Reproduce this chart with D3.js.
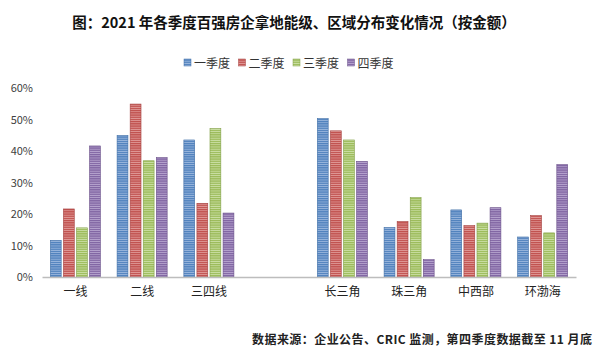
<!DOCTYPE html>
<html><head><meta charset="utf-8">
<script src="https://cdn.jsdelivr.net/npm/d3@7"></script>
<style>body{margin:0;background:#fff}svg{display:block}text{font-family:"Noto Sans CJK SC","Noto Sans",sans-serif}</style>
</head><body><svg id="c" width="600" height="357"></svg>
<script>
const categories = ["一线","二线","三四线","","长三角","珠三角","中西部","环渤海"];
const seriesNames = ["一季度","二季度","三季度","四季度"];
const q1 = [11.6, 44.9, 43.5, null, 50.3, 15.7, 21.3, 12.7];
const q2 = [21.6, 54.9, 23.4, null, 46.4, 17.6, 16.3, 19.5];
const q3 = [15.6, 36.9, 47.1, null, 43.5, 25.2, 17.1, 14.0];
const q4 = [41.6, 37.9, 20.3, null, 36.7, 5.5, 22.0, 35.7];
const yTicks = [0, 10, 20, 30, 40, 50, 60];
const colors = ["#4f81bd","#c0504d","#9bbb59","#8064a2"];
const stripe = ["#9cb8de","#e19c9a","#cde0a8","#b8a6d0"];
const edge = ["#3f6ea6","#a54240","#82a047","#6a5089"];
const title = "图：2021 年各季度百强房企拿地能级、区域分布变化情况（按金额）";
const source = "数据来源：企业公告、CRIC 监测，第四季度数据截至 11 月底";

const series = [q1,q2,q3,q4];
const svg = d3.select("#c");
const defs = svg.append("defs");
colors.forEach((c,i)=>{
  const p = defs.append("pattern").attr("id","p"+i).attr("patternUnits","userSpaceOnUse")
    .attr("width",4).attr("height",2.2);
  p.append("rect").attr("width",4).attr("height",2.2).attr("fill",c);
  p.append("rect").attr("y",1.3).attr("width",4).attr("height",0.9).attr("fill",stripe[i]);
});

const x0 = d3.scaleBand().domain(categories.map((d,i)=>i)).range([42,576]).paddingInner(0.25).paddingOuter(0.125);
const x1 = d3.scaleBand().domain(d3.range(4)).range([0,x0.bandwidth()]).paddingInner(0.17);
const y = d3.scaleLinear().domain([0,60]).range([277,88]);

svg.append("text").attr("x",294).attr("y",28).attr("text-anchor","middle")
  .attr("font-size",14.5).attr("font-weight","bold").attr("fill","#111").text(title);

// legend
const lg = svg.append("g");
seriesNames.forEach((s,i)=>{
  const gx = 184 + i*54.5;
  lg.append("rect").attr("x",gx).attr("y",59).attr("width",7).attr("height",7).attr("fill","url(#p"+i+")").attr("stroke",edge[i]).attr("stroke-width",0.5);
  lg.append("text").attr("x",gx+10).attr("y",67.5).attr("font-size",12).attr("fill","#333").text(s);
});

// y axis labels
const ya = d3.axisLeft(y).tickValues(yTicks).tickFormat(d=>d+"%").tickSize(0).tickPadding(0);
const yg = svg.append("g").attr("transform","translate(33,0)").call(ya);
yg.select(".domain").remove();
yg.selectAll("text").attr("font-size",11).attr("fill","#404040").attr("font-family","\"Liberation Sans\",Arial,sans-serif");

// bars
const g = svg.append("g");
categories.forEach((c,ci)=>{
  series.forEach((s,si)=>{
    const v = s[ci];
    if (v==null) return;
    g.append("rect").attr("x",x0(ci)+x1(si)).attr("y",y(v))
      .attr("width",x1.bandwidth()).attr("height",y(0)-y(v))
      .attr("fill","url(#p"+si+")").attr("stroke",edge[si]).attr("stroke-width",0.6);
  });
});

// x axis
const xa = d3.axisBottom(x0).tickFormat(i=>categories[i]).tickSize(0).tickPadding(10);
const xg = svg.append("g").attr("transform","translate(0,277)").call(xa);
xg.select(".domain").attr("stroke","#bdbdbd").attr("stroke-width",1.5);
xg.selectAll("text").attr("font-size",12).attr("fill","#222");

svg.append("text").attr("x",592).attr("y",344).attr("text-anchor","end")
  .attr("font-size",12).attr("font-weight","bold").attr("fill","#222")
  .attr("textLength",340).attr("lengthAdjust","spacing").text(source);
</script></body></html>
